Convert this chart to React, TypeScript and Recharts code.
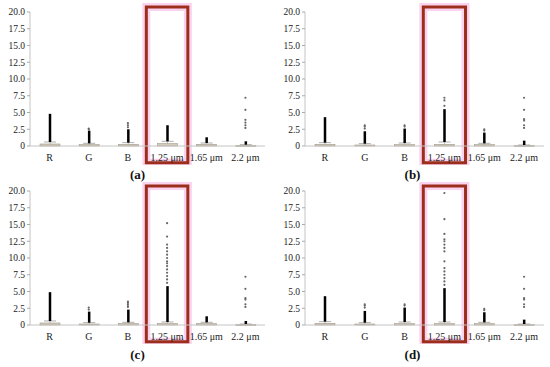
import React from 'react';
import { ComposedChart, Bar, Scatter, XAxis, YAxis, ReferenceArea } from 'recharts';

const categories = ['R', 'G', 'B', '1.25 μm', '1.65 μm', '2.2 μm'];
const yTicks = [0, 2.5, 5, 7.5, 10, 12.5, 15, 17.5, 20];

// (a)
const boxA = [0.3, 0.2, 0.25, 0.35, 0.25, 0.1];
const whiskerA = [0.6, 0.4, 0.5, 0.7, 0.45, 0.2];
const denseA = [4.8, 2.3, 2.5, 3.1, 1.3, 0.7];
const sparseA = [[], [2.5, 2.6], [2.8, 3.1, 3.4], [], [], [2.7, 3.1, 3.5, 3.9, 5.4, 7.2]];

// (b)
const boxB = [0.25, 0.15, 0.2, 0.25, 0.2, 0.08];
const whiskerB = [0.5, 0.35, 0.45, 0.6, 0.4, 0.15];
const denseB = [4.3, 2.2, 2.6, 5.5, 2.0, 0.8];
const sparseB = [[], [2.6, 2.9, 3.1], [2.9, 3.1], [6.0, 6.8, 7.2], [2.3, 2.5], [2.7, 3.1, 3.8, 4.0, 5.4, 7.2]];

// (c)
const boxC = [0.3, 0.15, 0.2, 0.2, 0.2, 0.08];
const whiskerC = [0.6, 0.35, 0.4, 0.45, 0.4, 0.15];
const denseC = [4.9, 2.0, 2.3, 5.8, 1.3, 0.6];
const sparseC = [
  [], [2.3, 2.6], [2.7, 3.0, 3.3, 3.5],
  [6.3, 6.8, 7.3, 7.8, 8.3, 8.8, 9.2, 9.5, 10.0, 10.5, 11.0, 11.5, 12.0, 13.2, 15.2],
  [], [2.7, 3.1, 3.8, 4.0, 5.4, 7.2],
];

// (d)
const boxD = [0.25, 0.15, 0.2, 0.2, 0.2, 0.08];
const whiskerD = [0.5, 0.35, 0.45, 0.45, 0.4, 0.15];
const denseD = [4.3, 2.1, 2.6, 5.5, 1.9, 0.8];
const sparseD = [
  [], [2.6, 2.9, 3.1], [2.9, 3.1],
  [6.0, 6.5, 7.0, 7.5, 8.0, 8.5, 9.5, 11.0, 11.5, 12.0, 12.5, 12.8, 13.6, 15.8, 19.7],
  [2.2, 2.4], [2.7, 3.1, 3.8, 4.0, 5.4, 7.2],
];

const FONT = 'Liberation Serif';

const BoxShape = (p: any) => (
  <rect x={p.x} y={p.y} width={p.width} height={Math.max(p.height, 1)} fill="#d3cab9" stroke="#a39886" strokeWidth={0.6} />
);

const WhiskerShape = (p: any) => {
  const cx = p.x + p.width / 2;
  return (
    <g>
      <line x1={cx} x2={cx} y1={p.y} y2={p.y + p.height} stroke="#999" strokeWidth={0.6} />
      <line x1={cx - 6} x2={cx + 6} y1={p.y} y2={p.y} stroke="#999" strokeWidth={0.8} />
    </g>
  );
};

const DenseShape = (p: any) => {
  const cx = p.x + p.width / 2;
  return <rect x={cx - 1.25} y={p.y} width={2.5} height={p.height} fill="#000" />;
};

const Dot = (p: any) => <circle cx={p.cx} cy={p.cy} r={1.1} fill="#666" />;

interface PanelProps {
  label: string;
  box: number[];
  whisker: number[];
  dense: number[];
  sparse: number[][];
  left: number;
  top: number;
  right: number;
  plotTop: number;
}

const Panel = ({ label, box, whisker, dense, sparse, left, top, right, plotTop }: PanelProps) => {
  const data = categories.map((c, i) => ({
    x: i,
    box: box[i],
    whisk: whisker[i] - box[i],
    dense: dense[i] - whisker[i],
  }));
  const points = sparse.flatMap((vals, i) => vals.map((v) => ({ x: i, y: v })));
  return (
    <div style={{ position: 'absolute', left, top, width: 275, height: 187 }}>
      <ComposedChart width={275} height={146 + 19 - 12 + plotTop} data={data}
        margin={{ top: plotTop, right, left: 0, bottom: 0 }}>
        <XAxis dataKey="x" type="number" domain={[-0.5, 5.5]} ticks={[0, 1, 2, 3, 4, 5]}
          tickFormatter={(v) => categories[v]} axisLine={{ stroke: '#c4c4c4' }} tickLine={false} height={19}
          interval={0} tick={{ fill: '#222', fontSize: 10, fontFamily: FONT }} tickMargin={2} />
        <XAxis xAxisId="top" orientation="top" dataKey="x" type="number" domain={[-0.5, 5.5]}
          axisLine={{ stroke: '#c4c4c4' }} tick={false} tickLine={false} height={0} />
        <YAxis type="number" domain={[0, 20]} ticks={yTicks} width={30} axisLine={{ stroke: '#c4c4c4' }}
          tickSize={3} tickLine={{ stroke: '#aaa' }} interval={0}
          tickFormatter={(v) => (v === 0 ? '0' : v.toFixed(1))}
          tick={{ fill: '#222', fontSize: 9.5, fontFamily: FONT }} />
        <YAxis yAxisId="right" orientation="right" type="number" domain={[0, 20]} width={0}
          axisLine={{ stroke: '#c4c4c4' }} tick={false} tickLine={false} />
        <Bar dataKey="box" stackId="s" barSize={20} shape={BoxShape} isAnimationActive={false} />
        <Bar dataKey="whisk" stackId="s" barSize={20} shape={WhiskerShape} isAnimationActive={false} />
        <Bar dataKey="dense" stackId="s" barSize={20} shape={DenseShape} isAnimationActive={false} />
        <Scatter data={points} dataKey="y" shape={Dot} isAnimationActive={false} />
        <ReferenceArea x1={2.47} x2={3.53} y1={-2.5} y2={20.75} ifOverflow="visible"
          fill="none" stroke="#fbd3ee" strokeWidth={8} />
        <ReferenceArea x1={2.47} x2={3.53} y1={-2.5} y2={20.75} ifOverflow="visible"
          fill="none" stroke="#9c2f1c" strokeWidth={3} />
      </ComposedChart>
      <div style={{ position: 'absolute', left: 0, width: 275, top: 167, textAlign: 'center',
        fontFamily: FONT, fontWeight: 'bold', fontSize: 13, color: '#111' }}>{label}</div>
    </div>
  );
};

export default function App() {
  return (
    <div style={{ position: 'absolute', left: 0, top: 0, width: 550, height: 367, background: '#fff', overflow: 'hidden' }}>
      <Panel label="(a)" box={boxA} whisker={whiskerA} dense={denseA} sparse={sparseA} left={0} top={0} right={10} plotTop={12} />
      <Panel label="(b)" box={boxB} whisker={whiskerB} dense={denseB} sparse={sparseB} left={275} top={0} right={6} plotTop={12} />
      <Panel label="(c)" box={boxC} whisker={whiskerC} dense={denseC} sparse={sparseC} left={0} top={180} right={10} plotTop={11} />
      <Panel label="(d)" box={boxD} whisker={whiskerD} dense={denseD} sparse={sparseD} left={275} top={180} right={6} plotTop={11} />
    </div>
  );
}
